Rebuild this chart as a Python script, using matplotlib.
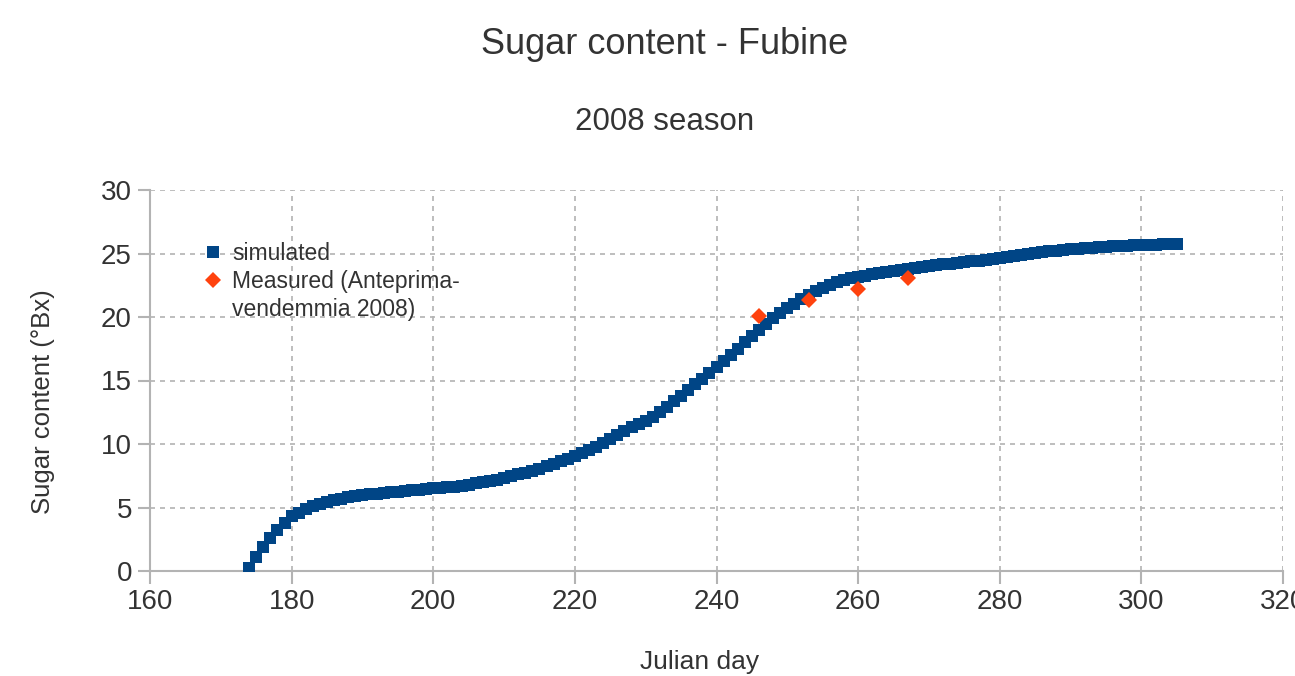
import matplotlib
matplotlib.use("Agg")
import matplotlib.pyplot as plt
from matplotlib.lines import Line2D

# ---------------- data ----------------
sim_days = list(range(174, 306))
sim_brix = [
    0.2, 1.1, 1.9, 2.6, 3.2, 3.8, 4.3, 4.6, 4.9, 5.1,          # 174-183
    5.3, 5.45, 5.6, 5.7, 5.8, 5.9, 6.0, 6.05, 6.1, 6.15,       # 184-193
    6.2, 6.25, 6.3, 6.35, 6.4, 6.45, 6.5, 6.55, 6.6, 6.65,     # 194-203
    6.7, 6.8, 6.9, 7.0, 7.1, 7.2, 7.3, 7.45, 7.6, 7.75,        # 204-213
    7.9, 8.05, 8.25, 8.45, 8.65, 8.85, 9.05, 9.3, 9.55, 9.8,   # 214-223
    10.1, 10.4, 10.7, 11.0, 11.3, 11.55, 11.85, 12.15, 12.5, 12.9,   # 224-233
    13.35, 13.8, 14.25, 14.7, 15.15, 15.6, 16.05, 16.5, 17.0, 17.5,  # 234-243
    18.0, 18.5, 19.0, 19.45, 19.9, 20.3, 20.7, 21.05, 21.4, 21.75,   # 244-253
    22.05, 22.3, 22.55, 22.75, 22.9, 23.05, 23.15, 23.25, 23.35, 23.45,  # 254-263
    23.55, 23.65, 23.72, 23.8, 23.88, 23.95, 24.02, 24.08, 24.14, 24.2,  # 264-273
    24.26, 24.32, 24.38, 24.44, 24.5, 24.56, 24.62, 24.7, 24.78, 24.86,  # 274-283
    24.94, 25.02, 25.1, 25.17, 25.23, 25.29, 25.34, 25.38, 25.42, 25.46, # 284-293
    25.5, 25.53, 25.56, 25.59, 25.62, 25.64, 25.66, 25.68, 25.7, 25.72,  # 294-303
    25.73, 25.75,                                                        # 304-305
]
meas_days = [246, 253, 260, 267]
meas_brix = [20.1, 21.3, 22.2, 23.1]

x_ticks = [160, 180, 200, 220, 240, 260, 280, 300, 320]
y_ticks = [0, 5, 10, 15, 20, 25, 30]

title = "Sugar content - Fubine"
subtitle = "2008 season"
xlabel = "Julian day"
ylabel = "Sugar content (°Bx)"
label_sim = "simulated"
label_meas_1 = "Measured (Anteprima-"
label_meas_2 = "vendemmia 2008)"

# ---------------- style ----------------
plt.rcParams["font.family"] = ["Liberation Sans", "DejaVu Sans"]

TXT = "#333333"
GRID = "#b3b3b3"
BLUE = "#004586"
ORANGE = "#ff420e"

fig = plt.figure(figsize=(12.95, 6.76), dpi=100)
ax = fig.add_axes([150 / 1295, 1 - 571 / 676, (1283 - 150) / 1295, (571 - 190) / 676])

ax.plot(sim_days, sim_brix, linestyle="none", marker="s", markersize=8.5,
        color=BLUE, markeredgewidth=0, label=label_sim, zorder=3)
ax.plot(meas_days, meas_brix, linestyle="none", marker="D", markersize=8.5,
        color=ORANGE, markeredgewidth=0, label=label_meas_1, zorder=4)

ax.set_xlim(x_ticks[0], x_ticks[-1])
ax.set_ylim(y_ticks[0], y_ticks[-1])
ax.set_xticks(x_ticks)
ax.set_yticks(y_ticks)
ax.grid(True, color=GRID, linestyle=(0, (3, 3)), linewidth=1.2, zorder=0)
ax.set_axisbelow(True)
for s in ["top", "right"]:
    ax.spines[s].set_visible(False)
for s in ["left", "bottom"]:
    ax.spines[s].set_color(GRID)
    ax.spines[s].set_linewidth(1.5)
ax.tick_params(axis="both", colors=GRID, labelcolor=TXT, labelsize=20,
               length=9, width=1.5, direction="out", pad=4)

ax.set_xlabel(xlabel, fontsize=19, color=TXT)
ax.xaxis.set_label_coords((700 - 150) / (1283 - 150), -(662 - 571) / (571 - 190))
ax.xaxis.label.set_va("center")
ax.set_ylabel(ylabel, fontsize=18.5, color=TXT)
ax.yaxis.set_label_coords(-(150 - 43) / (1283 - 150), (571 - 402) / (571 - 190))
ax.yaxis.label.set_va("center")

fig.text(665 / 1295, 1 - 45 / 676, title, ha="center", va="center",
         fontsize=26, color=TXT)
fig.text(665 / 1295, 1 - 122 / 676, subtitle, ha="center", va="center",
         fontsize=22.5, color=TXT)

handles, labels = ax.get_legend_handles_labels()
handles.append(Line2D([], [], linestyle="none", marker=None))
labels.append(label_meas_2)
leg = ax.legend(handles, labels, loc="upper left",
                bbox_to_anchor=((205 - 150) / (1283 - 150), (571 - 242) / (571 - 190)),
                frameon=False, fontsize=16.5, handlelength=0.7, handletextpad=0.5,
                labelspacing=0.22, borderaxespad=0, borderpad=0)
for t in leg.get_texts():
    t.set_color(TXT)

fig.savefig("out.png", dpi=100)
